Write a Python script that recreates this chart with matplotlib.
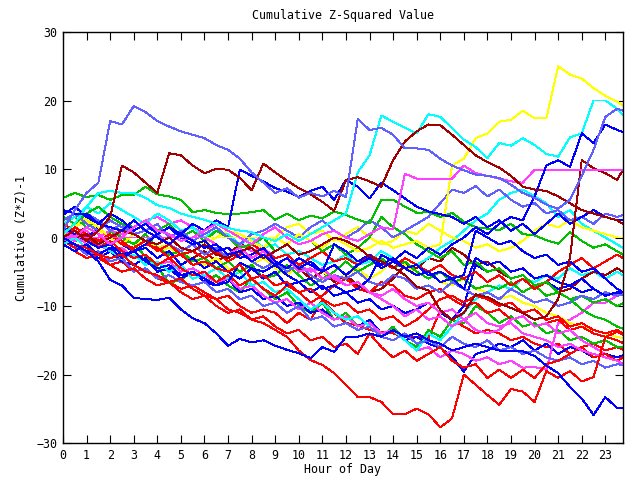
import matplotlib
matplotlib.use("Agg")
import matplotlib.pyplot as plt
import numpy as np

# =============================================================================
# DATA - cumulative (Z*Z)-1 per station, sampled every half hour
# =============================================================================
hours = np.append(np.arange(0, 24, 0.5), 23.75)

lb1 = [1, 4, 6.5, 8, 17, 16.5, 19.2, 18.3, 17, 16.2, 15.5, 15,
       14.5, 13.5, 12.8, 11.5, 9.5, 8, 6.5, 7.2, 5.8, 6.5, 6, 6.8,
       5.9, 17.3, 15.7, 16, 15, 13, 13, 12.8, 11.5, 10.5, 9.8, 9.2,
       9, 8.7, 7.7, 6.5, 5.8, 4.8, 4.2, 5.5, 9, 12.8, 17.6, 18.8, 18.5]
dr1 = [0, 1, -0.5, 1, 3, 10.5, 9.5, 8, 6.5, 12.3, 12, 10.5,
       9.4, 10, 9.9, 8.7, 6.9, 10.8, 9.5, 8.3, 7.2, 6.3, 5.2, 3.9,
       8.4, 8.8, 8.2, 7.4, 11.3, 14, 15.5, 16.5, 16.4, 15, 13.5, 12,
       11, 10.2, 9, 7.4, 7, 6.8, 6, 5, 4, 3.5, 3, 2.5, 2]
cy1 = [0.5, 2, 4.5, 6.5, 6.8, 6.5, 6.5, 5.8, 4.7, 4.3, 3.5, 3,
       2.6, 2, 1.4, 1, 0.8, 0, -0.5, 0.5, -0.5, 0.5, 1.5, 2.5,
       3.5, 9.5, 12, 17.8, 16.9, 16, 15.2, 18, 17.6, 16, 14.3, 13.2,
       11.6, 13.8, 13.4, 14.5, 13.5, 12.2, 11.8, 14.6, 15.2, 20, 20, 18.8, 17.9]
y1 = [0, 0, 0, 0, 0, 0, 0, 0, 0, 0, 0, 0,
      0, 0, 0, 0, 0, 0, 0, -1, 0.5, -0.5, -1.5, 0,
      -1, -2, -1.5, -0.5, -1.5, -1, -0.5, -1.5, -1, 10.5, 11.5, 14.5,
      15.2, 16.9, 17.2, 18.5, 17.4, 17.4, 25, 23.8, 23.2, 21.8, 20.7, 19.8, 19.3]
m2 = [1, 0, 1.5, 0.5, -1, 0, 1.5, 2.5, 1, 0.5, -0.5, 0,
      1, 2, 1, 0, -1, 0.5, 1.5, 0, -1, -0.5, 0.5, 1,
      0, -0.5, 0.5, 1.5, 1.2, 9.3, 8.6, 8.5, 8.5, 8.6, 10.5, 9.4,
      9, 8.6, 8.2, 8, 9.9, 9.9, 9.9, 9.9, 9.9, 9.9, 9.9, 9.9, 9.9]
db1 = [4, 3.5, 3.5, 2, 1.5, 1, 2.5, 1, 0, -1, 0.5, -0.5,
       -1.5, -1, -2.5, -2, -3.5, -2.5, -4, -3, -4.5, -3.5, -5, -4,
       -5.5, -4, -3, -4.5, -3.5, -2, -3, -1.5, -2.5, -1, 0, 1.5,
       0.5, 2, 3, 2.5, 6, 10.5, 11.3, 10.3, 15.2, 13.8, 16.5, 15.7, 15.4]
db2 = [-1, -2, -1, -2.5, -1.5, -3, -2, -1, 0.5, 1.5, 0.5, 2,
       1, 2.5, 1.5, 9.9, 9, 8.2, 7.2, 6.7, 5.9, 6.8, 7.4, 5.5,
       8.4, 7.4, 5.7, 8, 6.9, 5.7, 4.5, 3.8, 3.4, 3, 2, 3,
       1.5, 2.5, 1, 2, 0.5, 2, 3.5, 2, 3, 4, 3, 2.5, 2.6]
db3 = [0, -1, -2, -3.5, -6.2, -7, -8.8, -9, -9.1, -8.8, -10.5, -11.8,
       -12.5, -14, -15.8, -14.8, -15.3, -15, -15.8, -16.4, -16.9, -17.6, -16, -16.7,
       -14.5, -14.5, -14, -14.5, -13.5, -14.5, -14, -15, -15.5, -16.5, -16, -15.5,
       -16, -16.5, -16.5, -16.6, -17.3, -18.7, -19.8, -21.8, -23.5, -25.9, -23.3, -24.9, -24.9]
r1 = [0, -1, -1.5, -2.5, -3, -2.5, -4, -5, -5.5, -6.5, -6, -7.5,
      -8.5, -9, -10.5, -11, -12, -12.5, -13.5, -14.5, -16.5, -17.9, -18.6, -19.8,
      -21.5, -23.3, -23.3, -24, -25.8, -25.8, -25, -25.8, -27.7, -26.4, -20, -21.5,
      -23, -24.4, -22.1, -22.5, -24, -19.5, -20.5, -19.5, -21, -20.4, -14.5, -13.8, -14.2]
m1 = [0, 0, 0, 0, 0, 0, 0, 0, 0, 0, 0, 0,
      0, -1, -2.5, -1.5, -3, -2, -4, -3, -5, -4.5, -6, -5.5,
      -7, -6.5, -8, -8.5, -7.5, -9, -10, -9.5, -11, -10.5, -12, -11,
      -12.5, -13, -12.5, -14, -14.5, -15, -16, -15.5, -16.5, -17, -17.5, -18, -18.4]
dr2 = [1, 0, 0.5, -1, 0, 1, 0.5, -0.5, -1, 0, -1.5, -2,
       -1, -2.5, -3, -2, -1.5, -3, -2, -1, -2.5, -2, -1, 0,
       -0.5, -1.4, -2.8, -3.5, -4.3, -5.5, -7.2, -7.7, -10.6, -12, -11, -8.3,
       -8.7, -9.6, -10.3, -11, -12, -11.5, -9, -3, 11.3, 10.1, 9.4, 8.4, 9.9]
g1 = [5.8, 6.5, 5.9, 6.2, 5.5, 6.2, 6.2, 7.4, 6.3, 6, 5.5, 3.7,
      4, 3.6, 3.4, 3.5, 3.7, 4, 2.6, 3.5, 2.5, 3.2, 2.8, 3.8,
      3.3, 2.6, 2.1, 5.5, 5.5, 4.5, 3.6, 3.7, 3, 3.6, 2.3, 1.5,
      1.3, 1.1, 2, 0.5, 0.3, -0.4, -0.9, 0.8, -0.5, -1.5, -1, -2, -2.5]
g2 = [0.5, -0.5, 0, -1, 1, -0.5, -0.8, -2.8, -4.3, -6.6, -6.2, -5,
      -6.5, -5.5, -7, -8, -6, -7.5, -9, -8, -10, -11, -9.5, -12,
      -11, -13, -12, -14.5, -13, -15, -16, -13.5, -14.5, -12, -12.5, -10,
      -11, -12.5, -11.5, -13, -12.5, -14, -13.5, -15, -14.5, -15.5, -15, -16, -16]
g3 = [2, 3, 1.5, 2.5, 1, 0, -1, 0.5, -1.5, -2.5, -2, -3.5,
      -3, -4.5, -3.5, -5, -4, -6, -5.5, -4, -5.5, -7, -6, -5,
      -3.5, -5, -4, -3, -4.5, -3.5, -5, -6, -5, -6.5, -6, -7.5,
      -7, -7.5, -6.5, -8, -7, -8.5, -8, -9, -8.5, -9.5, -9, -10, -9.6]
g4 = [3, 2, 3.5, 4.5, 3, 2, 1.5, 2.5, 1, 2, 0, 1,
      -0.5, 1, 0, -1.5, -1, 0, -2, -1, 0.5, -0.5, -2, -1,
      -2.5, -1.5, 0, 3, 1.5, 0.5, -1, -2, -3, -2, -4, -3.5,
      -5, -4.5, -6, -5.5, -7, -6.5, -8, -9, -10.5, -11.5, -12, -13, -13.3]
r2 = [-0.5, -1.5, -2, -3, -4, -3.5, -5, -4.5, -6, -6.5, -7.5, -7,
      -8, -9, -8.5, -10, -11, -10.5, -11, -12.5, -11, -12, -9.1, -11,
      -12.5, -12.8, -13.5, -13.8, -14, -14.5, -14.5, -14.7, -10.6, -12, -13, -14,
      -13.5, -14, -15, -14.5, -15.5, -16, -15.5, -17, -16, -15.5, -16.5, -16, -16.4]
r3 = [1, 0, 0.5, -1.5, -0.5, -2, -3, -2.5, -4, -3, -4.5, -5.5,
      -5, -6.5, -5.5, -7, -6, -7.5, -8.5, -7, -8, -9.5, -8.5, -7,
      -6, -7.5, -8, -6.5, -7, -8.5, -9, -8, -7.5, -9, -10, -9.5,
      -11, -10.5, -12, -11.5, -13, -12.5, -12, -13.5, -13, -14, -14.5, -15, -15.4]
r4 = [0, 1.5, 0.5, -0.5, 0.5, -1, -1.5, -0.5, -2, -1, -2.5, -2,
      -3, -2, -3.5, -2.5, -1, -2, -3, -2.5, -4, -3, -2, -3.5,
      -3, -4, -2.5, -3.5, -4.5, -3, -4, -5, -4, -5.5, -6, -5,
      -6.5, -5.5, -7, -6, -7.5, -6.5, -5, -4, -3, -4.5, -3.5, -2.5, -3]
r5 = [-1, -2, -3, -2.5, -4, -5, -4.5, -6, -7, -6.5, -8, -9,
      -8.5, -10, -11, -10.5, -12, -11.5, -13, -14, -13.5, -15, -14.5, -16,
      -15.5, -17, -14, -16, -17.5, -16.5, -18, -17, -16, -18, -19, -18.5,
      -20.5, -19.3, -20.5, -19.3, -20.5, -18.5, -18, -17, -16, -17.5, -17, -18, -17.5]
r6 = [2, 1, 0, -1, 0.5, -0.5, -2, -1, -1.5, -3, -2.5, -4,
      -3.5, -4.5, -5, -4, -6, -5.5, -7, -6.5, -8, -7.5, -9, -10,
      -9.5, -11, -10.5, -12, -11.5, -13, -12, -10.5, -9, -8.5, -9.5, -8.5,
      -9, -10, -9.5, -11, -10.5, -12, -11.5, -13, -12.5, -13.5, -14, -13.5, -14]
b4 = [2, 1, 0, 1.5, 0, -1, -2, -1.5, -3, -2, -4, -3,
      -4.5, -3.5, -5, -6, -4.5, -6, -5, -7, -6.5, -8, -7, -8.5,
      -8, -9.5, -9, -10.5, -10, -11, -10.5, -9.5, -11, -12, -10, -4,
      -5, -4.5, -6, -5.5, -7, -6.5, -7.5, -7, -8, -7.5, -8.5, -8, -8.4]
b5 = [-0.5, -1, -1.5, -3, -2, -3.5, -4, -3, -5, -4.5, -6, -5,
      -6.5, -7, -6, -8, -7.5, -9, -8.5, -10, -9.5, -11, -10.5, -12,
      -11.5, -13, -12, -14, -13.5, -15, -14.5, -15.5, -16.1, -17.4, -19.6, -17,
      -16.5, -15.5, -16, -15, -16.5, -15.5, -17, -16, -16.5, -17.5, -17, -17.5, -17.2]
b6 = [1.5, 0.5, -0.5, -1.5, -1, -2.5, -2, -3.5, -4.5, -4, -5.5, -5,
      -6, -7, -6.5, -3.7, -4.5, -5, -4, -5.5, -6.5, -6, -7.5, -7,
      -8, -7.5, -6, -2.5, -3.5, -4.5, -4, -5.5, -5, -6, -5.5, 1,
      0, -1, -0.5, -2, -3, -2.5, -4, -3.5, -5, -4.5, -6, -7.5, -8]
b7 = [3.3, 4.5, 3, 2, 3.5, 2.5, 1, 2, 0.5, 1.5, 0, -1,
      -0.5, -2, -1.5, -3, -2.5, -1.5, -3.5, -4.5, -3, -4, -5, -1,
      -2, -3.5, -2.5, -4, -3, -4.5, -5.5, -5, -6.5, -6, -7.5, -3,
      -4, -3.5, -5, -4.5, -6, -5.5, -6.5, -7, -6, -7.5, -8.5, -8, -8]
lb2 = [0, -1, -2.5, -2, -3.5, -3, -5, -4.5, -6, -5.5, -6.5, -7,
       -6.5, -8, -7.5, -9, -8.5, -10, -9.5, -11, -10, -12, -11.5, -13,
       -12.5, -13.5, -13, -14.5, -15, -14, -15.5, -15, -16, -14.5, -15.5, -16,
       -15, -16.5, -16, -17, -16.5, -17.5, -18, -17.5, -18.5, -18, -19, -18.5, -18.6]
lb3 = [3, 2, 3.5, 2.5, 1, 2, 0.5, -0.5, 0.5, -1, -2, -1,
       -2.5, -1.5, -3, -2, -3.5, -4.5, -3.5, -5, -4, -5.5, -6.5, -5.5,
       -6, -5, -6.5, -7, -5.5, -6, -7.5, -7, -8, -6.5, -7.5, -8.5,
       -8, -9, -7.5, -8.5, -9.5, -9, -10, -9.5, -8.5, -9, -8, -8.5, -8.4]
lb4 = [2.5, 3.5, 2, 1, 2.5, 1.5, 0.5, 1, 2, 0, 1, -0.5,
       0.5, 1.5, 0, -1, 0.5, 1, 2, 1, 0, 1.5, 2.5, 1,
       0, 1, 2.5, 1.5, 0, 1, 2, 3, 5, 7, 6.5, 7.5,
       6, 7, 5.5, 4.5, 5, 3.5, 4, 2.5, 3, 2, 3.5, 3, 3.3]
cy2 = [-1, 0, -1.5, -0.5, -2, -3, -2.5, -4, -3.5, -5, -4, -6,
       -5.5, -4.5, -6, -5, -7, -6.5, -8, -7.5, -9, -10.5, -9.5, -11,
       -12, -11.5, -13, -14.5, -13.5, -15, -16.5, -14, -15, -13, -11, -9,
       -8, -7, -7.5, -6, -6.5, -5.5, -6, -4.5, -5.5, -5, -6, -5, -5.5]
cy3 = [2, 3, 4.5, 3.5, 5, 4, 3, 2, 3.5, 2.5, 1, 1.5,
       0, 1, 0.5, -1, 0, -1.5, -1, -2.5, -2, -3, -4, -3.5,
       -2.5, -4, -3.5, -2, -3, -4.5, -4, -3, -1.5, -0.5, 1, 2.5,
       3.5, 5.5, 6.5, 7, 6, 5, 3, 4, 2, 1, 0, -1, -1.5]
y2 = [0.5, 1.5, 2.5, 1, 0, 0.5, -1, -0.5, -2, -1.5, -2.5, -3,
      -4, -3, -4.5, -5, -4, -3, -4.5, -5.5, -4, -3.5, -5, -6,
      -5.5, -4.5, -6, -5, -3, -4, -5.5, -5, -6.5, -7, -6, -7.5,
      -8, -9, -8.5, -9.5, -10, -11, -11.5, -12.5, -13, -13.5, -14, -14.5, -14.7]
y3 = [1, 2, 2.8, 1.5, 0, -1, 0.5, -0.5, -1.5, -1, 0.5, -0.5,
      -1, 0, 1, 0.5, -0.5, -1.5, 0, 1.5, 2, 0.5, 1, -0.5,
      0.5, 1.5, 0, -1, -0.5, 1, 0.5, 2, 1, 0, -0.5, -1.5,
      -1, -2, -1.5, -0.5, 1, 2, 1.5, 2.5, 1.5, 1, 0.5, 0, 0]
m3 = [0.5, -0.5, 1, -1, -2, -1.5, -3, -2.5, -4, -3.5, -5, -4.5,
      -5.5, -6.5, -6, -7.5, -7, -8.5, -9.5, -9, -10.5, -9.5, -11, -12,
      -11.5, -13, -12.5, -14, -13.5, -15, -16.5, -16, -17.5, -16.5, -17, -18,
      -17.5, -18.5, -18, -19, -18.9, -19.3, -12.5, -12, -11, -9.5, -9.5, -8.5, -8]
m4 = [-0.5, 0.5, -1, 0, 1, 0.5, 1.5, 2.5, 3, 2, 2.5, 1.5,
      0.5, 1.5, 0, -1, -2, -1.5, -3, -2.5, -4, -5, -4.5, -6,
      -7, -6.5, -8, -9, -10, -11.5, -10.5, -12, -11.5, -13, -12, -13.5,
      -14, -13.5, -12, -11.5, -13, -12.5, -14, -13.5, -15, -16, -17, -18, -18.4]
dr3 = [-0.5, 0.5, 1.5, 2.5, 1, 0, -1, -0.5, -2, -1, -2.5, -3,
       -2, -3.5, -2.5, -1, -1.5, -3, -4, -3, -4.5, -6, -5, -6.5,
       -5.5, -7, -8, -7.5, -6, -4, -4.5, -3, -3.5, -1.5, -2.5, -4,
       -3.5, -5, -6, -5.5, -7, -6.5, -8, -7.5, -6, -5, -5.5, -4.5, -5]

# gnuplot style pens
RED, GREEN, BLUE = '#ff0000', '#00c000', '#0000ff'
MAGENTA, CYAN, DARKRED = '#ff40ff', '#00ffff', '#a00000'
YELLOW, LIGHTBLUE = '#ffff00', '#6060ff'

series = [
    (r2, RED), (g2, GREEN), (b5, BLUE), (m3, MAGENTA), (cy2, CYAN), (dr3, DARKRED),
    (y2, YELLOW), (lb2, LIGHTBLUE), (r3, RED), (g3, GREEN), (b4, BLUE),
    (m4, MAGENTA), (cy3, CYAN), (y3, YELLOW), (lb3, LIGHTBLUE), (r4, RED),
    (g4, GREEN), (b6, BLUE), (lb4, LIGHTBLUE), (r5, RED), (b7, BLUE), (r6, RED),
    (y1, YELLOW), (m1, MAGENTA), (g1, GREEN), (db2, BLUE), (dr2, DARKRED),
    (m2, MAGENTA), (cy1, CYAN), (db1, BLUE), (dr1, DARKRED), (lb1, LIGHTBLUE),
    (r1, RED), (db3, BLUE),
]

# =============================================================================
# PLOT
# =============================================================================
plt.rcParams['font.family'] = 'DejaVu Sans Mono'
FS = 8.4

fig = plt.figure(figsize=(6.4, 4.8), dpi=100)
ax = fig.add_axes([63 / 640, 1 - 443 / 480, 560 / 640, 411 / 480])

for vals, col in series:
    ax.plot(hours, vals, color=col, linewidth=0.7, antialiased=False)

ax.set_xlim(0, 23.75)
ax.set_ylim(-30, 30)
ax.set_xticks(range(24))
ax.set_yticks(range(-30, 31, 10))
ax.tick_params(direction='in', length=6, width=0.8, top=True, right=True,
               labelsize=FS, pad=4, colors='black')
for s in ax.spines.values():
    s.set_linewidth(1.0)

fig.text(343 / 640, 1 - 16 / 480, 'Cumulative Z-Squared Value', fontsize=FS,
         ha='center', va='center')
fig.text(343 / 640, 1 - 470 / 480, 'Hour of Day', fontsize=FS,
         ha='center', va='center')
fig.text(22 / 640, 1 - 238 / 480, 'Cumulative (Z*Z)-1', fontsize=FS,
         ha='center', va='center', rotation=90)

fig.savefig('out.png', dpi=100)
